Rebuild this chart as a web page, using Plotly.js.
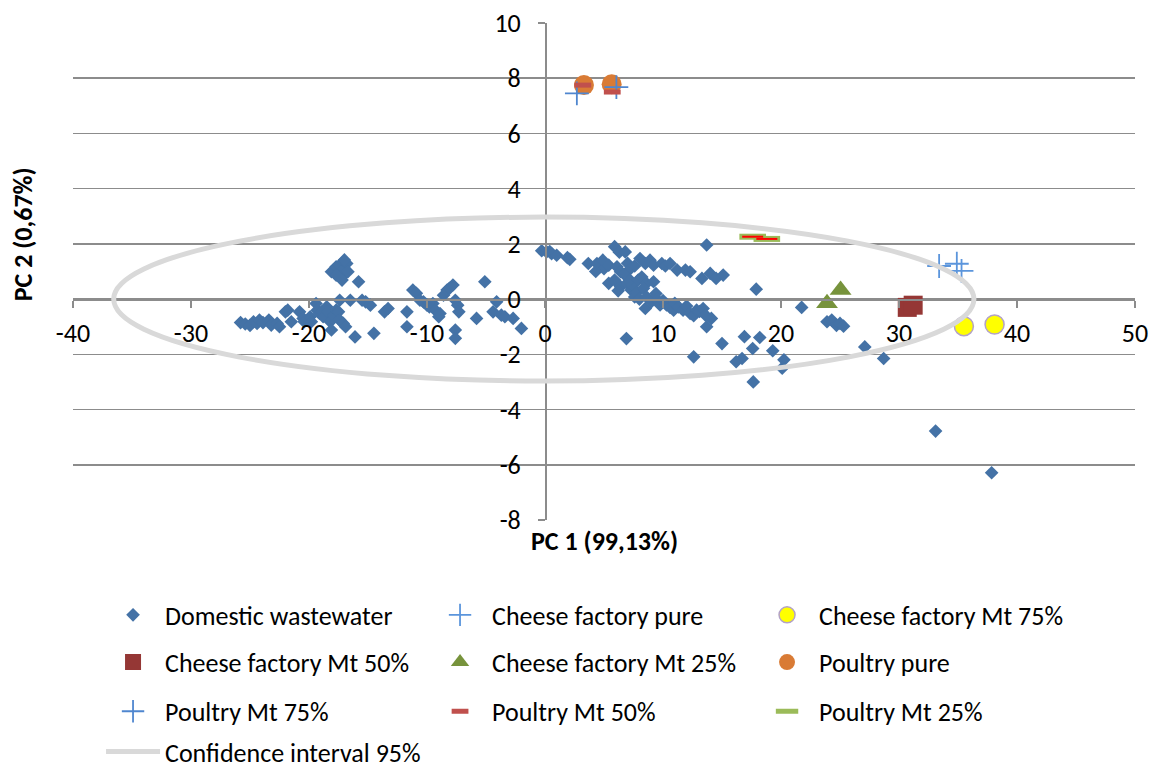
<!DOCTYPE html>
<html><head><meta charset="utf-8">
<script src="https://cdn.plot.ly/plotly-3.0.1.min.js"></script>
<style>html,body{margin:0;padding:0;background:#fff}#chart{width:1157px;height:771px}</style>
</head><body><div id="chart"></div>
<script>
// ---- data ----
const domesticX = [
  -25.8,-25.4,-25.0,-24.7,-24.4,-24.2,-23.9,-23.4,-23.2,-22.7,
  -22.5,-22.0,-21.8,-21.5,-20.8,-20.5,-20.4,-19.9,-19.8,-19.4,
  -19.3,-19.1,-18.9,-18.8,-18.5,-18.4,-18.2,-18.1,-17.9,-17.7,
  -17.5,-17.4,-17.4,-17.1,-16.9,-16.5,-16.1,-15.8,-15.5,-15.2,
  -14.8,-14.5,-13.6,-13.3,-11.7,-11.7,-11.2,-10.9,-10.6,-10.3,
  -10.0,-9.8,-9.5,-9.3,-9.0,-8.9,-8.6,-8.3,-8.1,-7.8,
  -7.6,-7.4,-7.3,-7.6,-7.6,-5.8,-5.1,-4.4,-4.1,-3.7,
  -3.4,-2.7,-2.0,
  -18.1,-17.8,-17.7,-17.5,-17.4,-17.2,-17.1,-17.0,-16.8,-16.7,-17.2,-17.7,-17.0,
  -0.28,0.14,0.4,0.56,0.99,1.9,2.1,3.67,4.4,4.9,
  5.0,4.3,5.9,6.3,6.8,5.4,6.1,6.4,7.0,7.6,
  7.0,5.4,5.9,6.4,6.95,6.7,7.3,7.4,7.6,7.8,
  8.0,7.2,7.9,8.2,8.05,8.5,8.9,9.2,9.9,10.2,
  10.6,11.2,11.9,12.3,8.6,9.2,8.35,8.6,8.5,9.0,
  9.4,9.5,9.75,10.0,10.3,10.6,10.9,11.0,11.3,11.7,
  12.0,12.3,12.6,12.85,13.1,13.4,13.6,14.1,13.7,13.7,
  13.3,14.0,14.5,15.1,6.2,6.9,12.6,15.0,16.9,17.6,
  18.2,17.9,16.2,16.7,17.65,19.3,20.25,20.1,21.75,23.9,
  24.3,24.7,25.0,25.3,27.1,28.7,33.1,37.85
];
const domesticY = [
  -0.85,-0.90,-0.95,-0.82,-0.88,-0.76,-0.85,-0.76,-0.94,-0.88,
  -1.00,-0.46,-0.40,-0.82,-0.46,-0.70,-0.82,-0.64,-0.82,-0.16,
  -0.40,-0.52,-0.46,-0.64,-0.28,-0.46,-0.82,-1.12,-0.58,-0.40,
  -0.46,-0.76,-0.04,-0.88,-1.00,-0.04,-1.37,0.63,-0.04,-0.10,
  -0.22,-1.24,-0.46,-0.34,-0.46,-1.00,0.33,0.21,-0.04,-0.10,
  -0.22,-0.28,-0.16,-0.40,-0.64,-0.52,0.14,0.33,0.39,0.51,
  -0.04,-0.22,-0.46,-1.12,-1.42,-0.70,0.63,-0.46,-0.10,-0.58,
  -0.64,-0.70,-1.06,
  0.99,1.05,1.17,0.93,1.23,0.81,1.35,1.11,1.29,0.99,0.69,0.87,1.42,
  1.75,1.71,1.72,1.65,1.59,1.50,1.44,1.29,1.29,1.41,
  1.10,1.00,1.90,1.70,1.71,1.23,1.17,0.99,1.30,1.20,
  1.00,0.57,0.69,0.45,0.57,0.90,0.33,0.50,0.08,0.25,
  0.00,0.69,0.69,0.80,1.47,1.29,1.41,1.23,1.29,1.20,
  1.29,1.05,1.05,0.99,0.57,0.63,0.39,0.08,-0.34,-0.10,
  0.20,-0.02,-0.21,-0.05,-0.21,-0.30,-0.40,-0.15,-0.28,-0.40,
  -0.25,-0.52,-0.60,-0.40,-0.45,-0.34,-0.58,-0.70,-1.00,1.96,
  0.75,0.93,0.75,0.87,0.30,-1.43,-2.09,-1.61,-1.36,-1.79,
  -1.39,0.36,-2.27,-2.15,-3.00,-1.87,-2.20,-2.50,-0.30,-0.82,
  -0.76,-0.95,-0.88,-0.98,-1.73,-2.15,-4.78,-6.29
];
const cheesePureX = [33.4, 34.9, 35.3];
const cheesePureY = [1.20, 1.28, 1.02];
const cheese75X = [35.5, 38.1];
const cheese75Y = [-0.98, -0.92];
const cheese50X = [30.7, 31.2];
const cheese50Y = [-0.30, -0.22];
const cheese25X = [23.9, 25.05];
const cheese25Y = [-0.15, 0.33];
const poultryPureX = [3.3, 5.65];
const poultryPureY = [7.75, 7.78];
const poultry75X = [2.7, 6.05];
const poultry75Y = [7.45, 7.68];
const poultry50X = [3.2, 5.7];
const poultry50Y = [7.75, 7.50];
const poultry25X = [17.6, 18.8];
const poultry25Y = [2.26, 2.18];
const ellipseCenter = [-0.1, 0];
const ellipseRadii = [36.45, 2.97];
const xTicks = [-40,-30,-20,-10,0,10,20,30,40,50];
const yTicks = [-8,-6,-4,-2,0,2,4,6,8,10];
const legendRows = [['Domestic wastewater','Cheese factory pure','Cheese factory Mt 75%'],
                    ['Cheese factory Mt 50%','Cheese factory Mt 25%','Poultry pure'],
                    ['Poultry Mt 75%','Poultry Mt 50%','Poultry Mt 25%'],
                    ['Confidence interval 95%']];

// ---- chart ----
const FONT = 'Carlito, Lato, "Liberation Sans", sans-serif';
const GRID = '#8c8c8c';
function legendOf(name){
  for (let i=0;i<legendRows.length;i++) if (legendRows[i].includes(name)) return i===0?'legend':'legend'+(i+1);
}
function sc(name, x, y, marker, extra){
  return Object.assign({type:'scatter', mode:'markers', name:name, x:x, y:y, marker:marker,
    legend:legendOf(name), legendgroup:name, cliponaxis:false, hoverinfo:'x+y+name'}, extra||{});
}
const traces = [
  sc('Domestic wastewater', domesticX, domesticY, {symbol:'diamond', size:10.5, color:'#4472A6'}),
  sc('Cheese factory pure', cheesePureX, cheesePureY, {symbol:'cross-thin', size:17, color:'#5B95DC', line:{color:'#5B95DC', width:1.8}}),
  sc('Cheese factory Mt 75%', cheese75X, cheese75Y, {symbol:'circle', size:19, color:'#FFFF00', line:{color:'#B3A2C7', width:1.5}}),
  sc('Cheese factory Mt 50%', cheese50X, cheese50Y, {symbol:'square', size:19, color:'#953735'}),
  sc('Cheese factory Mt 25%', cheese25X, cheese25Y, {symbol:'triangle-up', size:19, color:'#77933C'}),
  sc('Poultry pure', poultryPureX, poultryPureY, {symbol:'circle', size:20, color:'#D97B35'}),
  sc('Poultry Mt 75%', poultry75X, poultry75Y, {symbol:'cross-thin', size:17, color:'#4F86CF', line:{color:'#4F86CF', width:1.8}}),
  sc('Poultry Mt 50%', poultry50X, poultry50Y, {symbol:'line-ew', size:12, color:'#C0504D', line:{color:'#C0504D', width:5}}),
  sc('Poultry Mt 25%', poultry25X, poultry25Y, {symbol:'line-ew', size:19, color:'#9BBB59', line:{color:'#9BBB59', width:6}}),
  sc('Poultry Mt 25%', poultry25X, poultry25Y, {symbol:'line-ew', size:15, color:'#FF0000', line:{color:'#FF0000', width:2}}, {showlegend:false}),
  {type:'scatter', mode:'lines', name:'Confidence interval 95%', x:[null], y:[null],
   line:{color:'#D9D9D9', width:5}, legend:'legend4', hoverinfo:'skip'}
];

const rowY = [-0.191, -0.286, -0.385, -0.466];
function legendCfg(i){
  return {orientation:'h', x:0.0264, xanchor:'left', y:rowY[i], yanchor:'middle',
    entrywidth:258, entrywidthmode:'pixels', itemwidth:54, traceorder:'normal',
    bgcolor:'rgba(0,0,0,0)', borderwidth:0, font:{family:FONT, size:26, color:'#000'},
    itemclick:false, itemdoubleclick:false};
}

const layout = {
  width:1157, height:771,
  margin:{l:73, r:22, t:23, b:251, pad:0, autoexpand:false},
  paper_bgcolor:'#fff', plot_bgcolor:'#fff',
  font:{family:FONT, size:26, color:'#000'},
  showlegend:true,
  legend:legendCfg(0), legend2:legendCfg(1), legend3:legendCfg(2), legend4:legendCfg(3),
  xaxis:{range:[-40,50], tickvals:xTicks, ticktext:xTicks.map(String), showgrid:false, zeroline:false,
    showline:true, linecolor:GRID, linewidth:1.5, ticks:'outside', ticklen:7, tickcolor:GRID, tickwidth:1.5,
    anchor:'free', position:8/18, ticklabelstandoff:3, tickfont:{family:FONT, size:26, color:'#000'}},
  yaxis:{range:[-8,10], tickvals:yTicks, ticktext:yTicks.map(String), showgrid:true, gridcolor:GRID, gridwidth:1.5,
    zeroline:false, showline:true, linecolor:GRID, linewidth:1.5, ticks:'outside', ticklen:7, tickcolor:GRID, tickwidth:1.5,
    anchor:'free', position:40/90, ticklabelstandoff:12, tickfont:{family:FONT, size:26, color:'#000'}},
  shapes:[{type:'circle', xref:'x', yref:'y', layer:'above',
    x0:ellipseCenter[0]-ellipseRadii[0], x1:ellipseCenter[0]+ellipseRadii[0],
    y0:ellipseCenter[1]-ellipseRadii[1], y1:ellipseCenter[1]+ellipseRadii[1],
    line:{color:'#D9D9D9', width:5}, fillcolor:'rgba(0,0,0,0)'}],
  annotations:[
    {text:'<b>PC 1 (99,13%)</b>', xref:'paper', yref:'paper', x:0.5, y:-0.043, xanchor:'center', yanchor:'middle',
     showarrow:false, font:{family:FONT, size:26, color:'#000'}},
    {text:'<b>PC 2 (0,67%)</b>', xref:'paper', yref:'paper', x:-0.047, y:0.575, xanchor:'center', yanchor:'middle',
     textangle:-90, showarrow:false, font:{family:FONT, size:26, color:'#000'}}
  ]
};
Plotly.newPlot('chart', traces, layout, {displayModeBar:false, staticPlot:true});
</script>
</body></html>
